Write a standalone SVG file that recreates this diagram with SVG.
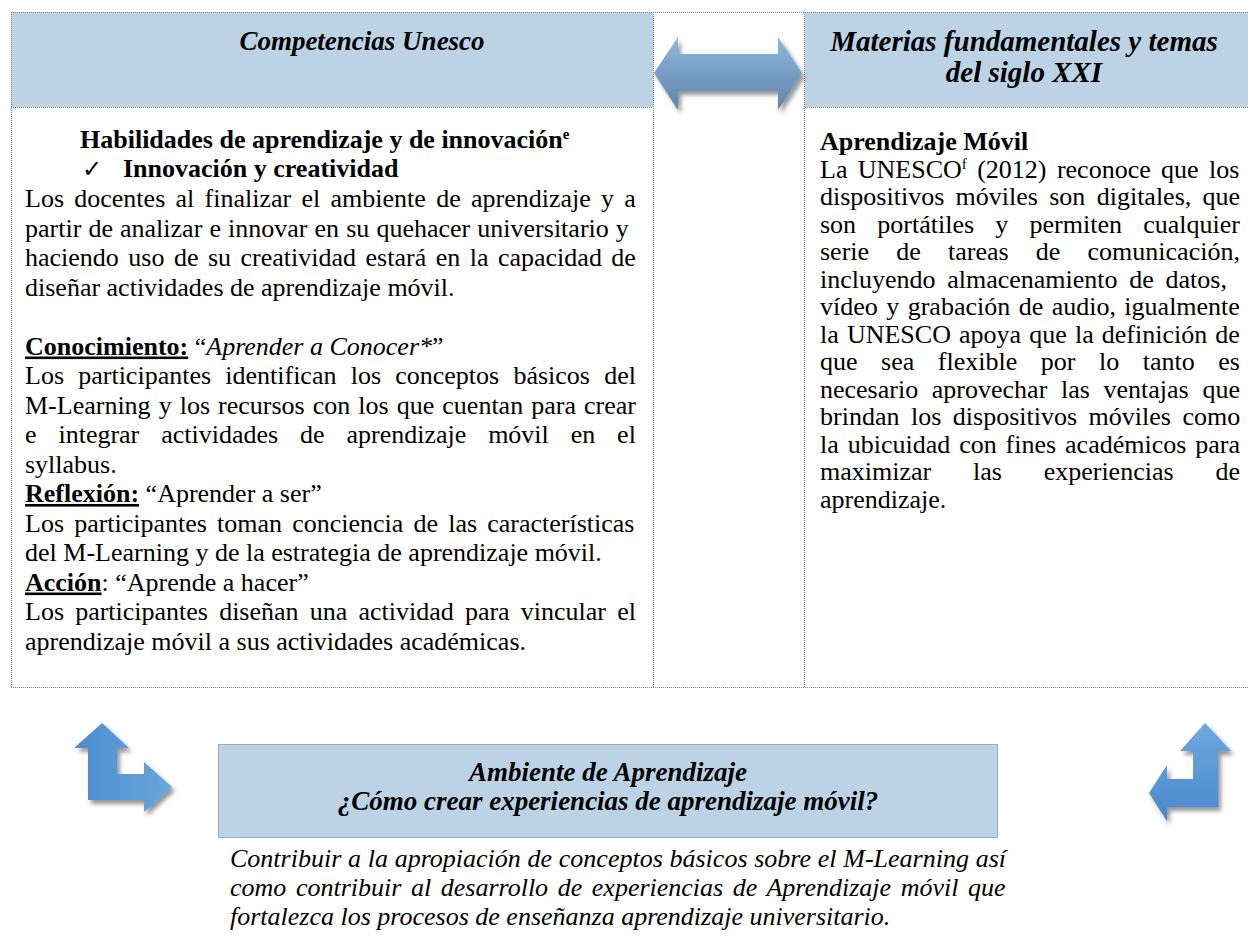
<svg xmlns="http://www.w3.org/2000/svg" width="1248" height="952" viewBox="0 0 1248 952">
<defs>
<style>
.t{font-family:"Liberation Serif","Times New Roman",serif;font-size:26px;fill:#000;white-space:pre}
.b{font-weight:bold}
.i{font-style:italic}
.u{text-decoration:underline}
.h{font-family:"Liberation Serif","Times New Roman",serif;font-size:27px;font-weight:bold;font-style:italic;text-anchor:middle;fill:#000}
.hr{font-size:29px}
.hdr{fill:#bcd3e6}
.dot{fill:none;stroke:#8c7f7f;stroke-width:1;stroke-dasharray:1 1}
.sup{font-size:15px}
.chk{font-family:"DejaVu Sans",sans-serif;font-size:24px}
</style>
<linearGradient id="gDouble" x1="0" y1="0" x2="0" y2="1">
<stop offset="0" stop-color="#8cb9df"/>
<stop offset="1" stop-color="#6283a8"/>
</linearGradient>
<linearGradient id="gLeft" x1="0" y1="0" x2="1" y2="0">
<stop offset="0" stop-color="#4a8dcf"/>
<stop offset="1" stop-color="#6ba6dc"/>
</linearGradient>
<linearGradient id="gRight" x1="0" y1="0" x2="0" y2="1">
<stop offset="0" stop-color="#6ea8dd"/>
<stop offset="1" stop-color="#4889cc"/>
</linearGradient>
<filter id="shadow" x="-20%" y="-20%" width="150%" height="150%">
<feDropShadow dx="3" dy="4" stdDeviation="2" flood-color="#404040" flood-opacity="0.55"/>
</filter>
</defs>

<g id="competencias">
<rect class="hdr" x="11" y="12" width="642" height="95"/>
<text class="h" x="362" y="50">Competencias Unesco</text>
<text class="t b" x="80" y="148">Habilidades de aprendizaje y de innovación<tspan class="sup" dy="-9">e</tspan></text>
<text class="t chk" x="82" y="177">✓</text>
<text class="t b" x="123" y="177">Innovación y creatividad</text>
<text class="t" x="25" y="207" style="word-spacing:3.79px">Los docentes al finalizar el ambiente de aprendizaje y a</text>
<text class="t" x="25" y="236.5" style="word-spacing:0.6px">partir de analizar e innovar en su quehacer universitario y</text>
<text class="t" x="25" y="266" style="word-spacing:2.99px">haciendo uso de su creatividad estará en la capacidad de</text>
<text class="t" x="25" y="295.5">diseñar actividades de aprendizaje móvil.</text>
<text class="t" x="25" y="354.5"><tspan class="b u">Conocimiento:</tspan> “<tspan class="i">Aprender a Conocer*</tspan>”</text>
<text class="t" x="25" y="384" style="word-spacing:7.72px">Los participantes identifican los conceptos básicos del</text>
<text class="t" x="25" y="413.5" style="word-spacing:1.54px">M-Learning y los recursos con los que cuentan para crear</text>
<text class="t" x="25" y="443" style="word-spacing:15.39px">e integrar actividades de aprendizaje móvil en el</text>
<text class="t" x="25" y="472.5">syllabus.</text>
<text class="t" x="25" y="502"><tspan class="b u">Reflexión:</tspan> “Aprender a ser”</text>
<text class="t" x="25" y="531.5" style="word-spacing:3.63px">Los participantes toman conciencia de las características</text>
<text class="t" x="25" y="561">del M-Learning y de la estrategia de aprendizaje móvil.</text>
<text class="t" x="25" y="590.5"><tspan class="b u">Acción</tspan>: “Aprende a hacer”</text>
<text class="t" x="25" y="620" style="word-spacing:4.66px">Los participantes diseñan una actividad para vincular el</text>
<text class="t" x="25" y="649.5">aprendizaje móvil a sus actividades académicas.</text>
</g>

<g id="materias">
<rect class="hdr" x="805" y="12" width="443" height="95"/>
<text class="h hr" x="1024" y="51">Materias fundamentales y temas</text>
<text class="h hr" x="1024" y="82">del siglo XXI</text>
<text class="t b" x="820" y="150">Aprendizaje Móvil</text>
<text class="t" x="820" y="177.5" style="word-spacing:3.88px">La UNESCO<tspan class="sup" dy="-9">f</tspan><tspan dy="9"> (2012) reconoce que los</tspan></text>
<text class="t" x="820" y="205" style="word-spacing:4.83px">dispositivos móviles son digitales, que</text>
<text class="t" x="820" y="232.5" style="word-spacing:14.73px">son portátiles y permiten cualquier</text>
<text class="t" x="820" y="260" style="word-spacing:20.7px">serie de tareas de comunicación,</text>
<text class="t" x="820" y="287.5" style="word-spacing:5.2px">incluyendo almacenamiento de datos,</text>
<text class="t" x="820" y="315" style="word-spacing:1.96px">vídeo y grabación de audio, igualmente</text>
<text class="t" x="820" y="342.5" style="word-spacing:1.63px">la UNESCO apoya que la definición de</text>
<text class="t" x="820" y="370" style="word-spacing:17.05px">que sea flexible por lo tanto es</text>
<text class="t" x="820" y="397.5" style="word-spacing:7.17px">necesario aprovechar las ventajas que</text>
<text class="t" x="820" y="425" style="word-spacing:5.02px">brindan los dispositivos móviles como</text>
<text class="t" x="820" y="452.5" style="word-spacing:2.42px">la ubicuidad con fines académicos para</text>
<text class="t" x="820" y="480" style="word-spacing:35.3px">maximizar las experiencias de</text>
<text class="t" x="820" y="507.5">aprendizaje.</text>
</g>

<g id="ambiente">
<rect class="hdr" x="218" y="744" width="780" height="94"/>
<rect class="dot" x="218.5" y="744.5" width="779" height="93"/>
<text class="h" x="608" y="781">Ambiente de Aprendizaje</text>
<text class="h" x="608" y="810">¿Cómo crear experiencias de aprendizaje móvil?</text>
<text class="t i" x="230" y="867" style="word-spacing:0.23px">Contribuir a la apropiación de conceptos básicos sobre el M-Learning así</text>
<text class="t i" x="230" y="896" style="word-spacing:3.08px">como contribuir al desarrollo de experiencias de Aprendizaje móvil que</text>
<text class="t i" x="230" y="925">fortalezca los procesos de enseñanza aprendizaje universitario.</text>
</g>

<g id="table-lines">
<path class="dot" d="M11 12.5H1248M11.5 12V687M11 687.5H1248M11 107.5H653M805 107.5H1248M653.5 12V687M804.5 12V687"/>
</g>

<g id="connectors">
<polygon id="double-arrow" filter="url(#shadow)" fill="url(#gDouble)" points="654,73 678,37 678,54 778,54 778,37 802,73 778,110 778,91 678,91 678,110"/>
<polygon id="bent-arrow-left" filter="url(#shadow)" fill="url(#gLeft)" points="102,723 129,748 117,748 117,774 144,774 144,762 172,787 144,812 144,800 88,800 88,748 74,748"/>
<polygon id="bent-arrow-right" filter="url(#shadow)" fill="url(#gRight)" points="1205,723 1231,751 1218,751 1218,807 1167,807 1167,821 1149,793 1167,765 1167,779 1193,779 1193,751 1180,751"/>
</g>
</svg>
